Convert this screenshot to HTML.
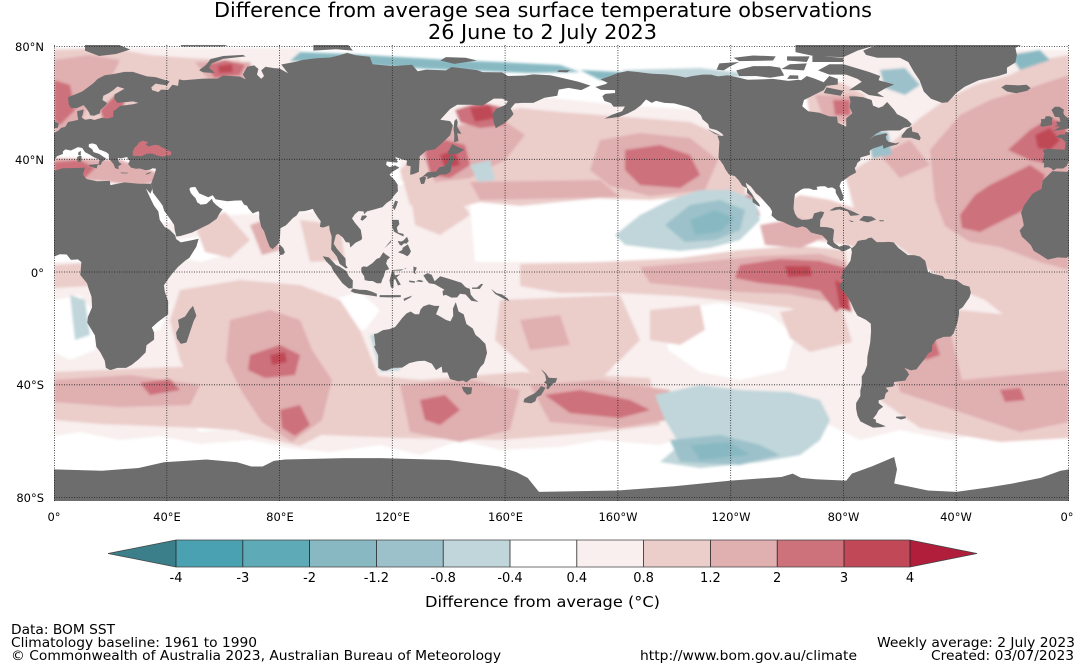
<!DOCTYPE html>
<html><head><meta charset="utf-8"><style>html,body{margin:0;padding:0;background:#fff;}svg{display:block;}</style></head>
<body>
<svg xmlns="http://www.w3.org/2000/svg" xmlns:xlink="http://www.w3.org/1999/xlink" width="1085" height="667" viewBox="0 0 1085 667" font-family="'DejaVu Sans','Liberation Sans',sans-serif">
<defs>
<clipPath id="mc"><rect x="54" y="45" width="1015" height="456"/></clipPath>
<filter id="soft" x="-5%" y="-5%" width="110%" height="110%"><feGaussianBlur stdDeviation="1.3"/></filter>
<g id="land" fill="#6d6d6d">
<path d="M-5.6,36 L-6.3,36.8 -7.4,37.2 -8.9,37 -8.8,38.7 -9.5,38.8 -8.7,42 -9.3,43 -8,43.7 -4,43.5 -1.5,43.4 -1.2,46 -2.5,47.3 -4.7,48 -3,48.8 -1.5,48.7 -1.3,49.7 0.2,49.5 1.6,50.2 2.5,51.1 4,51.5 5,53.2 7,53.6 8.6,54 8.3,55.5 8.2,57 10.5,57.7 10.3,56.2 9.8,54.8 11,54 13,54.3 14.3,53.9 17,54.7 19,54.4 21,55 21,57 22,57.7 23.5,58.9 28,59.5 30,60 28,60.5 25,60.2 22.5,60 21.3,61.5 21.5,63 25,65 22.5,65.8 21,64.5 19.5,63.5 17.5,62.5 17.2,61 18.8,60 18.5,59.3 16.5,57.5 16.2,56.2 14.2,55.4 12.8,55.6 12.5,56.5 11.5,58 10.5,59.2 8,58.1 6,58.2 5.2,59.5 5,62 7,62.8 10,64 12,65.5 14,67 15.5,68.5 18,69.8 21,70.2 25,71 28,71 31,70 33,69.4 36,69.1 41,67.6 40,66.2 36,66.8 34.5,65.5 34.8,64.5 37,63.8 38,64.7 40.5,64.6 42,66.4 44,66 44.3,68.3 46,68 53,68.6 58,68.6 60,69.7 66,69.3 68,68.3 67,70 68.5,72.8 71,73.3 72.5,72 72,70 73.5,68.5 74.5,69.5 73.5,71.5 75,72.8 78,72.3 80,72.2 83,70.5 80.6,73.6 86,74.6 88,75.2 93,75.8 98,76.1 101,76.8 104,77.7 107,76.9 112,76.3 113,73.7 120,73 127,73.5 129,71.2 132,71.8 139,71.5 141,72.7 150,71.6 152,70.9 159,70.8 161,69.5 167,69.7 170,70.1 176,69.8 180,68.9 186,67.5 190.3,66.1 187,64.5 182.5,65.3 179,64.7 178.5,62.5 174,61.8 170,60 166,60 163.5,59.8 162,58 163,56 162,54.8 160,53 158,51.8 156.7,51 156,53 155.5,56 156.8,57.8 160,59.2 161,60.5 159,61.5 156,61.5 152,59 148,59.3 143,59.3 140.5,57.8 137,54 140.5,53.5 141.5,52 140.5,48.5 138,46 135,43.5 132,43 129.7,41 129.5,37 129.4,35.5 127.5,34.7 126.3,34.5 126.5,37.5 125,37.8 125.2,39.5 124,39.8 122,40.5 121,40.8 122,39 121.5,38.8 118,39.2 117.8,38 119,37.2 121,37.8 122.5,37 120,35.5 119,34.5 120.9,32.5 121.9,31 121.9,30 122,28.7 120.5,27 119.5,25.5 118,24.5 116.5,23 114,22.3 111,21.5 110,20.5 109.8,21.5 108,21.6 106.7,20.5 105.7,19 106.7,17.5 108.8,15 109.3,12 109,11.4 107,10.4 105.1,8.7 104.8,10.4 103.5,10.6 102.5,12.2 100.9,13.5 100,13.2 99.2,10 100.3,8.3 101.5,6.9 103.4,4.8 103.5,2.5 104.2,1.4 103.5,1.3 101.3,2.9 100.3,5.5 98.3,8 98.5,12.5 97.8,14.8 97.6,16.5 95.5,15.8 94.3,16 94.6,18 93.5,19.5 92.3,21.4 91.8,22.4 90.5,22 88.8,21.6 87,21.5 86,20 84.8,19.2 82.3,16.6 80.3,15.5 80.2,13 79.8,10.3 78.5,9 77.5,8.1 76.5,8.9 75.5,11.5 74.5,14.5 73.5,16 72.8,19 72.8,21 72.5,21.6 70.5,20.8 69,22.5 68.5,23.5 67.4,23.9 66.5,25.4 64,25.3 61.5,25.1 58.5,25.6 57.3,25.8 56.3,27.2 54.7,26.5 51.5,27.9 50.1,30.2 48.5,30 48,29.5 48.5,28 49.6,26.8 50.2,26.2 50.8,24.7 51.6,24.2 52,23.9 54,24.1 56,26 56.4,24.9 57.4,23.9 58.9,22.7 59.8,22.3 58.5,20.4 57.7,18.9 56.3,17.9 55,17 52.2,15.6 49,14 45,12.8 43.4,12.6 42.8,15 42.6,16.7 41.2,18.8 39.1,21.7 38.5,23.6 37.5,25 35.1,28.1 34.9,29.5 34.3,31.3 34.6,31.6 35,32.9 35.6,34.5 35.9,35.5 36.2,36.6 35,36.8 34,36.3 32.5,36.1 30.5,36.7 29,36.6 27.3,37 26.3,38.3 26.9,39.5 26.2,40 26,40.8 23.7,40.3 22.6,40.5 23,39 24,38.2 22.8,37.5 23,36.5 21.7,36.8 21.1,38.3 19.5,40.2 19.4,41.8 18.5,42.5 16,43.5 15,45.2 13.7,45.6 12.4,45.4 12.3,44.4 13.6,43.5 14,42.5 16,41.9 18.5,40.2 17,39 16.6,38 15.7,38 16.2,39.8 15.6,40.1 14,40.8 12.5,41.7 11,42.5 10,44 8.5,44.3 7.5,43.8 6,43.1 4,43.5 3.1,42.7 3.2,41.9 1,41 0,39.5 -0.5,38.3 -0.8,37.6 -2.1,36.7 -4.4,36.7 Z"/>
<path d="M-5.9,35.8 L-9.3,32.5 -9.8,29.5 -13,27.7 -16,23.5 -17,21 -16.5,19 -16,16.5 -17.5,14.7 -16.7,12.5 -15,11 -13.5,9.5 -12.5,7.5 -10.5,6.3 -7.5,4.4 -4,5.2 -1,5 2,6.3 4.5,6.2 6,4.3 8.5,4.5 9.7,3.5 9.5,1 9.3,-1 11.7,-4 12.3,-6 13.3,-8.8 13.5,-12.5 12,-16 11.8,-18 13,-20 14.5,-22.5 15,-26.5 16.5,-28.6 18,-31.5 18.4,-34 20,-34.8 22.5,-34 25.6,-34 27.5,-33 30,-31 32.5,-28.5 32.8,-26 35.5,-24 35.5,-21.5 34.7,-19.7 36.8,-17.8 40.5,-15 40.5,-10.5 39.3,-7 39,-4.7 40.5,-2.5 42,-0.5 44,1.8 46.5,4 48,5 50.5,9 51.3,11.8 49,11.3 45,10.5 43.3,11.7 43,13 41,15 39.2,16 37.5,18.5 37,21.5 35.5,23.5 34,26.5 32.6,29.6 34.2,27.8 34.9,29.5 34.3,31.3 32.3,31.3 30,31.3 25,31.8 20,30.8 19.8,32.3 15.3,32.2 11.5,33 10.2,34.6 11,37 8.5,36.9 3,36.8 -1,35.5 Z"/>
<path d="M49.3,-12 L50.5,-15.5 49.5,-17.5 48,-22 47,-25 45,-25.5 43.6,-23.6 43.3,-21.5 44.4,-19.5 44,-17 46.5,-15.8 48,-13.5 Z"/>
<path d="M-5.7,50.1 L-3.5,50.3 1.4,51.2 1.7,52.7 0.3,53.4 -0.2,54.5 -1.6,55.6 -2,56.5 -1.8,57.6 -3.4,58.6 -5,58.6 -6.2,57.5 -5.6,56.3 -5,55 -3.4,54.9 -3.2,54 -3,53.3 -4.6,53.3 -4,52 -5.2,51.7 -3,51.5 Z"/>
<path d="M-6,52.2 L-6.1,53.9 -5.7,54.6 -7,55.3 -8.3,55.2 -8.6,54.3 -10,54.2 -9.8,53.4 -10.2,51.9 -9.5,51.5 -8,51.8 Z"/>
<path d="M-22,64 L-24,65.5 -22.5,66.4 -18,66.2 -15,66.4 -13.6,65.2 -14.8,64.3 -18.7,63.4 Z"/>
<path d="M11,78.5 L16,76.6 22,77.3 27,78.9 22,81 11,81 Z"/>
<path d="M45,80 L60,80 65,81.5 45,81.5 Z"/>
<path d="M51.5,71.5 L53,70.8 57,70.6 55,72.5 56,74 60,75.6 68,76.5 67,77 60,76.6 55.5,75.5 54,73.5 52,72 Z"/>
<path d="M92,78.5 L100,79 106,78.5 104,81 92,81 Z"/>
<path d="M137,75 L142,73.8 150,75 146,76 139,76.2 Z"/>
<path d="M178.5,71 L182,70.8 183,71.6 179,71.6 Z"/>
<path d="M130.9,34 L132.5,35.4 135.5,35.6 136.8,37.2 138.5,37.5 140,39.5 140,40.7 141.4,41.4 142,39.5 141,38.3 140.9,37 140.7,35.7 139.8,35 138.8,34.6 137,34.6 135.2,33.5 132.5,33.8 Z"/>
<path d="M129.6,33.3 L130.2,31.2 131.3,31.3 132,33.5 131,34 Z"/>
<path d="M140,41.5 L139.8,42.7 141.3,45.4 142.5,44.7 145.5,43.4 143.3,42 141,41.7 Z"/>
<path d="M132.5,33 L134.5,33.8 134.6,34.2 133,34.1 132.3,33.4 Z"/>
<path d="M142,46 L143.5,46.5 143,49.2 144.5,49 143,51.5 143.2,53.3 142.7,54.4 142,53.5 141.7,51 142,48.5 141.9,46.1 Z"/>
<path d="M120.1,23 L121,25.3 122,25 121.5,23.5 120.8,21.9 Z"/>
<path d="M108.7,18.5 L109.5,18.2 111,19.6 110.6,20.1 109.2,20 Z"/>
<path d="M120,18.5 L122.2,18.5 122.5,17 121.6,15.8 122,14 124,13.5 124,12.6 122.7,13.2 121.5,13.8 120.6,14.3 120,16 Z"/>
<path d="M122,7 L123.5,7.8 123.7,8.6 125.5,9.8 126.6,7.3 126,6.2 125.3,5.6 124,6.3 Z"/>
<path d="M123.2,10.8 L124,11.2 125.2,12.5 125.8,11 125,10 124.2,10.2 123.2,9.3 122.5,9.8 121.9,11 Z"/>
<path d="M117.2,8.4 L119.5,10.6 119.6,11.3 118.5,10 Z"/>
<path d="M109,1.5 L109.7,2 111,1.8 113,3.2 114.5,4.7 115.5,5 116.8,7 117.7,6.2 119.2,5.2 118.2,4.3 117.8,3 118.9,1 117.5,0.5 117,-1.5 116.5,-2.5 116,-4 114.5,-4 113,-3.2 111.7,-3.2 110.2,-2.9 110,-1.5 109,0 Z"/>
<path d="M95.3,5.6 L97.5,5.2 100,2.5 101.2,2 103.7,0.3 104.6,-1.5 106,-3 105.9,-5.8 104.5,-5.8 102.3,-4 100.8,-2 99,0.5 98.3,2 96.5,3.8 Z"/>
<path d="M105.2,-6.8 L106,-5.9 108.3,-6.3 110.8,-6.4 112.6,-6.9 114.5,-7.7 114.5,-8.7 112,-8.3 108.5,-7.8 106.5,-7.4 Z"/>
<path d="M115.5,-8.2 L119,-8.2 123,-8.2 123,-8.9 119,-9 115.5,-8.9 Z"/>
<path d="M124,-9.5 L127,-8.4 126.5,-9 124.2,-10.3 Z"/>
<path d="M119.5,-5.5 L120.4,-5.6 120.5,-2.8 121,-2.5 122,-4.8 123,-4.5 121.5,-1.9 122.8,-0.8 121,-1.2 120.3,0.5 123,0.5 124.8,1.5 125,1.3 123,0.9 120.1,0.7 119.8,0 119,-3 Z"/>
<path d="M127.5,2 L128.7,1.5 128,0 128.5,-0.8 127.5,-0.3 Z"/>
<path d="M126,-3 L128,-3.3 128,-3.8 126,-3.6 Z M129.5,-2.8 L131,-3.2 130.5,-3.6 128.3,-3.3 Z"/>
<path d="M131,-1.2 L132.5,-0.4 134,-1 135,-3.3 137,-1.5 140,-2.4 144.5,-3.8 146,-5.4 147.5,-6 147.8,-8 149,-9.5 150.6,-10.6 148,-10.2 146,-8 144,-7.7 143,-9 141,-9.1 139,-8.1 138,-8.4 137.8,-6.8 138.5,-6.3 135,-4.3 133,-4 132,-2.8 Z"/>
<path d="M148.3,-5.5 L150,-5.5 151.5,-4.2 152.2,-4.3 151,-6 148.3,-6 Z"/>
<path d="M155,-6 L157,-7.5 159,-8 161,-9.5 161.5,-10.4 159.5,-9.5 156.5,-7.8 Z"/>
<path d="M79.8,8 L80,9.8 81.3,8.5 81.9,7 81.3,6.2 80.1,6 Z"/>
<path d="M113.5,-22 L114,-26 113.5,-26.5 115,-29.5 115,-32 115,-34 116.5,-35 118,-35 120,-34 123.5,-33.9 126,-32.3 129,-31.6 131.5,-31.5 134,-32.5 135.5,-34.8 137.5,-33.5 137.8,-35.7 139.5,-35.6 140.5,-38 143.5,-38.8 145,-38.5 146.3,-39.1 148,-37.8 150,-37.5 150,-36 151.2,-33.8 152.5,-32.4 153.6,-28.7 153,-25.5 151,-23.5 149.5,-22.3 148.5,-20 146.3,-18.5 145.3,-15 143.5,-14 142.5,-10.7 141.5,-13 141.6,-15.5 140.6,-17.5 139,-17 137,-15.8 135.5,-15 136.7,-12 135,-12 133,-11.5 131,-12.2 130,-13.3 129.5,-15 128,-15 126.5,-14 125,-14.7 123.5,-16.3 122.2,-18 121,-19.5 118.8,-20.3 116.7,-20.6 114.6,-21.8 Z"/>
<path d="M144.6,-40.7 L148.3,-40.9 148,-43.2 146.5,-43.6 145.2,-42.2 Z"/>
<path d="M172.7,-34.4 L174.5,-36 175.5,-37.5 178.5,-37.7 177.9,-39.2 176.9,-39.6 175.3,-41.6 174.6,-41.3 175,-39.9 173.8,-39.2 174.6,-38.4 174.2,-36.5 Z"/>
<path d="M172.7,-40.5 L174.3,-41 173.5,-42.5 172.7,-43.7 171.3,-44.3 170.7,-45.9 169.2,-46.6 166.5,-46.2 166.8,-45 168.5,-44 170.5,-43 172,-41.5 Z"/>
<path d="M23.5,35.3 L26.3,35.2 26,35 24,35 Z M32.3,34.7 L34.6,35.6 34,35 33,34.6 Z M12.4,38 L15.6,38.3 15.1,36.7 12.4,37.6 Z M8.4,39 L9.6,39.1 9.8,41 9.2,41.3 8.2,40.8 Z M8.6,41.5 L9.5,41.4 9.5,43 8.6,42.4 Z"/>
<path d="M-77.3,8.6 L-79.5,7.5 -80.5,7.3 -81.5,8 -83.5,8.5 -85.8,10 -85.7,11.1 -87.5,13 -89.5,13.5 -91.5,14 -93,15.6 -94.5,16.2 -96.5,15.7 -99,16.6 -101.5,17.8 -103.5,18.3 -105.5,20 -105.3,21.5 -106,22.8 -108,25 -109.5,26.7 -111,27.9 -112.8,30.3 -114.7,31.7 -114.2,30 -112.5,27.8 -111.5,26 -110,24.3 -109.5,23.2 -110.3,23.5 -112.2,24.8 -112.3,26.5 -114.2,28 -114.2,29.7 -115.9,30.6 -117.1,32.5 -118.5,34 -120.6,34.6 -121.9,36.5 -122.5,37.8 -123.8,39.7 -124.3,40.4 -124.2,42.8 -124,46.3 -124.7,48.4 -123,48.3 -122.5,48.5 -123.5,49.4 -125,50.3 -127.5,51 -128,52.5 -130,54.2 -130.5,55.5 -132,57 -135,58.5 -137,59 -140,59.8 -143.5,60 -146.5,60.7 -148,60 -150,61.2 -151.8,59.2 -154,57.5 -156.5,56.2 -159.5,55 -162.5,54.6 -164.8,54.4 -162,55.8 -158.5,57 -157.5,58.7 -161.5,58.6 -162.5,59.9 -164.8,60.7 -165.5,62.4 -164.5,63.2 -161,63.5 -161,64.5 -166,64.6 -168,65.6 -164.5,66.6 -163.6,67.1 -166.2,68.3 -163,69.4 -160,70.6 -156.6,71.3 -152,70.8 -148,70.3 -143,70.1 -139,69.6 -136,69 -133.5,69.5 -130,70 -127,70 -124.5,69.4 -121,69.8 -117,68.9 -114,68.2 -109,68.3 -105,68.5 -99.5,67.8 -96,68.2 -95,68 -93,69.5 -90,68.5 -87,67.3 -85,69.5 -82,68.5 -82,66.5 -86,66 -87,64.5 -91,62.5 -94,61 -94.6,58.8 -92.5,57 -88.5,56.5 -85,55.2 -82.3,55.1 -82,53 -79,51.5 -79,54.5 -76.8,56.3 -77.8,58.5 -77.5,60.5 -78,62.3 -75.5,62.3 -73,62 -70,61 -69.5,59 -67.5,58.2 -66,58.8 -64.5,60.3 -62,57.5 -61,56 -59,55 -57.5,54.2 -55.8,52.5 -56.5,51.5 -58.5,51.2 -60,50.2 -64,50.2 -66.5,50 -68.5,49 -71,46.8 -69,48.3 -65,49.2 -64.3,48.8 -65,48.1 -64.8,47 -64,46.2 -61.5,45.6 -60,46 -61.1,45.2 -63.8,44.5 -65.8,43.7 -66,45 -67,44.6 -69.5,43.8 -70.7,43 -70.6,41.6 -72,41.2 -74,40.6 -74,39.5 -75,38.8 -75.5,37.5 -76,36.9 -75.5,35.3 -76.8,34.6 -78,33.9 -79.2,33 -80.8,32 -81.4,30.5 -80.6,28.4 -80,26.8 -80.2,25.5 -81.1,25.2 -81.8,26.5 -82.7,28 -82.8,29.3 -84,30 -85.5,29.8 -86.5,30.4 -88,30.4 -89.5,30.2 -89.2,29.2 -90.5,29.1 -92,29.6 -94,29.6 -95,29.2 -97.2,27.6 -97.5,25.5 -97.7,22.5 -97.2,20.7 -96.3,19.3 -94.8,18.5 -92.5,18.6 -91,19 -90.4,20.8 -88,21.5 -86.8,21.2 -87.5,19.5 -88.2,18.5 -88.3,16 -86,15.9 -84,15.5 -83.3,14.9 -83.7,11.5 -83.4,10.4 -81.5,9 -79.5,9.6 -78,9.3 Z"/>
<path d="M-62,66.5 L-65,65.2 -68,63.5 -65.5,62 -71,62.8 -74,64.5 -78,64.5 -73.5,67.5 -75,68.5 -79,70 -85,70 -89,71.5 -85,73.7 -80,73.7 -76,72.5 -71,71 -67,69.5 -67.5,68 Z"/>
<path d="M-118,71.5 L-117,69.5 -111,69.5 -106,68.9 -101,69.7 -102.5,72.5 -106,73 -112,73 Z"/>
<path d="M-125,71.8 L-122.5,71.5 -120,73 -117,74.5 -124,74 Z"/>
<path d="M-117,74.8 L-105,75 -104,76.5 -112,76.8 -119,76 Z"/>
<path d="M-100,75 L-93,74.5 -92,76.5 -100,76.5 Z"/>
<path d="M-91,74.5 L-80,74.5 -80,76 -91,76.7 Z"/>
<path d="M-102,72 L-94,71.5 -93,74 -99,73.7 Z"/>
<path d="M-100,68.5 L-96,68.5 -96,69.7 -99,69.8 Z"/>
<path d="M-87,63.5 L-81,62.5 -80,64.3 -86,65.5 Z"/>
<path d="M-97,78 L-90,76.5 -80,76.2 -75,78.5 -65,81.5 -97,81.5 Z"/>
<path d="M-73,78.5 L-72,77 -68,76 -60,76 -57,74.5 -55,71 -53,68 -51.5,64 -49,61.5 -45,60 -43,60.2 -40,63.5 -37,65.7 -32,68 -25,69.5 -22,70.5 -22,72.5 -19,74.3 -18.5,77 -19,79.5 -15,81.5 -65,82 Z"/>
<path d="M-59.4,47.6 L-56,47.6 -53,46.7 -52.6,47.6 -53.5,49.3 -55.6,49.8 -55.8,51.6 -57.5,50.7 -59.3,48.5 Z"/>
<path d="M-85,21.8 L-83,22.9 -81,23.2 -77.5,21.8 -75.7,21 -74.2,20.2 -77.5,19.9 -78.5,21.5 -81.5,22.2 -83.5,21.8 Z"/>
<path d="M-74.4,18.4 L-72.8,19.9 -70,19.7 -68.4,18.6 -71.4,17.6 Z"/>
<path d="M-78.3,18.4 L-76.3,18 -77,17.7 Z M-67.2,18.4 L-65.6,18.3 -65.7,18 -67.2,18 Z"/>
<path d="M-128.4,50.7 L-123.5,48.4 -125.5,48.9 Z"/>
<path d="M-77.3,8.6 L-77,7 -77.5,4 -78.5,2.5 -80,0.8 -80.4,-1 -81,-2.2 -79.8,-2.7 -81.3,-4.5 -81,-6 -79.5,-7.5 -77.5,-10.5 -76.2,-13.5 -75,-15.5 -72,-17 -70.3,-18.3 -70.2,-21 -70.5,-25 -71.5,-30 -71.6,-33 -72.5,-35.5 -73.5,-37 -73.5,-40 -74,-42 -74,-44 -75.5,-46.5 -75.5,-48.5 -75,-51 -74,-53 -72,-54 -69.5,-55.2 -66.5,-55 -65,-54.7 -68.5,-53.3 -68.5,-52.3 -69.5,-52 -68.3,-50.5 -67.5,-49 -65.9,-47.8 -67.5,-46.5 -67.5,-45.5 -65.5,-45 -65,-43 -64,-42.2 -65,-41 -62.3,-40.6 -62,-39 -58,-38.5 -57.5,-37.5 -56.7,-36.4 -57.3,-35.3 -58.4,-34 -56,-34.9 -54,-34.5 -53.5,-33.7 -51.3,-31 -50,-29 -48.6,-28 -48.5,-26 -47,-24 -44.5,-23 -42,-22.9 -41,-21.9 -40.3,-20 -39.6,-18 -39,-15 -39,-13.4 -37.7,-12.5 -35.3,-9 -34.8,-7.3 -35.3,-5.2 -37.5,-4.6 -40,-2.8 -44,-2.4 -44.8,-1.4 -48,-0.7 -50,0 -51,4 -52.9,5.5 -55,6 -57.2,6 -58.5,7 -60.5,8.5 -62.2,10.5 -64,10.7 -66,10.6 -68.2,10.6 -70,12.2 -71.2,12 -72,11.5 -73.5,11.3 -74.9,11 -75.8,9.5 -76.8,8.6 Z"/>
<path d="M-61.3,-51.3 L-58,-51.2 -57.8,-51.8 -59.5,-52.3 -61.3,-51.8 Z"/>
<path d="M0,-70 L17,-70.5 30,-69.5 39,-67.5 54,-66.5 65,-67.5 70,-69 74,-69 78,-67 82,-66.5 103,-66 115,-66 140,-66.7 150,-68 158,-69 164,-71 168,-73 172,-78 200,-77.5 220,-76 240,-74 258,-72.7 262,-71.5 265,-73 270,-73.5 281,-74 283,-71.5 290,-69 298,-65.6 299,-70 298,-75 310,-77.5 320,-78 331,-76.5 340,-75 350,-73 357,-70.5 360,-70 360,-90 0,-90 Z"/>
</g>
</defs>

<rect x="0" y="0" width="1085" height="667" fill="#fff"/>

<text x="543" y="17" font-size="20" text-anchor="middle" textLength="658" lengthAdjust="spacingAndGlyphs">Difference from average sea surface temperature observations</text>
<text x="542.5" y="39" font-size="20" text-anchor="middle" textLength="229" lengthAdjust="spacingAndGlyphs">26 June to 2 July 2023</text>

<g clip-path="url(#mc)">
<rect x="54" y="45" width="1015" height="456" fill="#fff"/>
<g filter="url(#soft)">
<!-- light pink -->
<g fill="#f8efee">
<polygon points="150,225 230,215 300,212 340,210 400,185 480,175 470,205 475,262 540,262 620,262 745,262 760,250 860,250 860,320 880,300 960,295 1069,300 1069,430 1030,438 990,432 950,440 900,430 860,440 830,425 800,440 760,438 700,432 660,445 600,440 560,447 500,450 460,440 420,455 380,445 330,452 290,448 250,440 200,444 160,436 120,440 80,432 54,436 54,262 120,262 150,290"/>
<polygon points="400,100 520,95 620,105 700,110 760,120 800,150 760,200 700,195 620,200 560,197 480,200 440,205 400,180"/>
<polygon points="54,48 300,48 300,80 200,120 54,140"/>
<polygon points="840,50 1069,50 1069,300 860,250 850,200"/>
</g>
<!-- white holes -->
<g fill="#ffffff">
<polygon points="475,210 540,200 600,205 640,210 700,205 745,215 748,255 700,262 620,260 560,262 505,258 478,240"/>
<polygon points="665,310 720,303 770,315 795,335 785,370 740,380 700,372 668,350"/>
<polygon points="54,300 80,295 100,320 95,350 70,360 54,352"/>
<polygon points="100,300 140,292 170,305 160,330 125,335 105,320"/>
<polygon points="175,240 210,235 225,255 200,262 180,258"/>
<polygon points="330,300 360,292 380,310 365,330 340,328"/>
<polygon points="880,260 920,255 950,265 935,285 895,285"/>
<polygon points="560,355 600,350 620,365 590,380 565,372"/>
<polygon points="180,415 230,410 240,428 200,432"/>
</g>
<!-- medium pink -->
<g fill="#ebcdca">
<polygon points="845,175 870,160 895,140 920,118 945,100 975,85 1010,75 1040,60 1069,55 1069,330 1040,335 1010,320 985,300 960,290 935,275 910,255 890,240 870,225 855,210"/>
<polygon points="54,50 110,48 150,55 190,58 240,60 250,80 200,85 160,95 130,115 110,130 54,135"/>
<polygon points="400,170 430,140 470,118 520,108 560,112 600,115 640,118 690,122 720,135 745,160 745,195 720,200 690,196 650,200 600,198 560,202 520,206 480,202 440,212 410,205"/>
<polygon points="520,264 600,262 680,258 740,250 800,246 845,250 852,300 835,322 790,308 740,302 680,296 620,293 560,293 520,286"/>
<polygon points="180,290 240,280 300,285 340,300 360,330 380,380 350,420 300,446 240,432 200,400 180,360 170,320"/>
<polygon points="54,372 200,366 380,376 420,380 520,372 650,378 660,425 600,432 500,440 400,438 300,434 200,428 100,424 54,420"/>
<polygon points="500,300 620,295 640,340 600,380 530,372 495,340"/>
<polygon points="650,310 700,305 705,330 680,345 650,340"/>
<polygon points="780,312 840,302 852,342 810,352 790,338"/>
<polygon points="880,320 960,310 1040,318 1069,330 1069,438 1000,442 920,428 880,400 870,360"/>
<polygon points="780,205 800,195 830,200 860,210 890,220 900,240 880,252 850,246 820,241 790,231"/>
<polygon points="805,85 840,82 865,95 870,125 840,128 810,118"/>
<polygon points="195,225 225,212 250,240 230,258 205,252"/>
<polygon points="300,220 340,225 345,260 310,262"/>
<polygon points="410,190 450,185 470,215 440,235 415,225"/>
<polygon points="54,265 100,262 110,285 54,288"/>
</g>
<!-- pink -->
<g fill="#e0afb0">
<polygon points="930,150 960,115 990,100 1030,88 1069,75 1069,270 1040,262 1000,247 970,242 945,226 935,200"/>
<polygon points="880,155 910,140 930,165 900,178"/>
<polygon points="54,60 90,55 120,60 110,80 90,100 80,125 54,132"/>
<polygon points="420,150 450,128 500,118 525,135 505,160 470,178 435,182"/>
<polygon points="600,140 640,133 690,138 718,160 705,190 650,196 610,186 590,170"/>
<polygon points="470,182 600,180 620,197 480,200"/>
<polygon points="640,267 700,262 760,256 820,254 846,262 852,312 830,302 790,294 740,292 690,287 650,283"/>
<polygon points="230,320 270,310 300,320 312,350 332,380 322,420 292,442 262,422 242,392 226,360"/>
<polygon points="400,385 470,380 520,390 510,430 460,442 410,432"/>
<polygon points="530,385 600,380 670,390 668,420 620,428 550,422"/>
<polygon points="54,380 130,375 200,385 190,405 120,407 54,402"/>
<polygon points="890,335 950,330 962,380 1069,370 1069,422 1020,432 960,412 900,392"/>
<polygon points="520,320 560,315 570,345 530,350"/>
<polygon points="54,158 120,160 150,170 170,178 140,186 100,181 54,179"/>
<polygon points="1040,160 1069,158 1069,180 1045,176"/>
<polygon points="195,62 250,62 255,78 210,82"/>
<polygon points="815,95 855,95 860,122 825,122"/>
<polygon points="760,225 800,218 830,235 800,248 765,245"/>
<polygon points="250,225 270,218 280,250 262,255"/>
</g>
<!-- red -->
<g fill="#cd717b">
<polygon points="960,215 975,195 990,185 1010,175 1030,165 1045,175 1040,200 1020,212 1000,222 980,232 962,228"/>
<polygon points="1008,150 1030,130 1050,118 1065,123 1069,150 1055,165 1030,160"/>
<polygon points="625,150 660,145 690,155 700,175 680,188 640,185 625,170"/>
<polygon points="425,150 445,140 465,145 470,165 450,178 430,175"/>
<polygon points="455,110 480,102 505,108 505,125 480,128 460,122"/>
<polygon points="740,265 780,259 820,261 846,268 850,302 836,312 820,291 790,286 760,283 735,278"/>
<polygon points="745,195 752,195 760,215 755,219"/>
<polygon points="250,355 280,345 300,355 295,375 265,378 248,370"/>
<polygon points="280,410 300,405 310,425 295,436 282,428"/>
<polygon points="545,395 580,390 630,400 650,410 620,418 570,413"/>
<polygon points="420,400 445,395 460,410 440,425 425,420"/>
<polygon points="140,383 170,379 180,390 150,395"/>
<polygon points="54,80 70,85 75,110 60,125 54,120"/>
<polygon points="205,65 225,60 245,65 240,75 215,78"/>
<polygon points="54,162 80,160 95,168 85,178 54,178"/>
<polygon points="100,110 115,95 125,100 120,120 105,125"/>
<polygon points="920,345 935,340 940,355 925,360"/>
<polygon points="1000,390 1020,388 1025,400 1005,402"/>
<polygon points="833,100 850,100 850,115 835,115"/>
</g>
<g fill="#c04857">
<polygon points="470,108 490,105 495,118 475,122"/>
<polygon points="440,155 455,150 460,165 445,168"/>
<polygon points="785,266 810,266 812,276 788,277"/>
<polygon points="835,280 845,285 851,312 840,308"/>
<polygon points="1035,135 1050,128 1060,140 1050,150 1038,148"/>
<polygon points="270,355 285,352 287,362 272,365"/>
<polygon points="218,66 232,64 233,72 219,73"/>
</g>
<!-- blues -->
<g fill="#c0d6da">
<polygon points="615,235 640,215 670,200 700,190 730,190 755,200 760,220 740,240 710,248 680,251 650,248 625,245"/>
<polygon points="655,395 700,385 740,390 790,392 820,400 830,420 820,440 800,455 760,462 700,468 660,462 680,445 665,420"/>
<polygon points="70,295 85,300 90,335 75,340"/>
<polygon points="370,335 395,330 400,370 380,372"/>
<polygon points="620,70 700,68 760,75 700,80 640,78"/>
<polygon points="470,165 490,160 495,180 478,182"/>
</g>
<g fill="#9cc1ca">
<polygon points="665,225 690,205 720,200 745,210 740,230 715,240 685,242"/>
<polygon points="670,440 720,435 760,445 780,455 740,465 680,462"/>
<polygon points="880,70 905,68 920,85 905,95 885,88"/>
<polygon points="868,130 888,132 892,155 872,158"/>
</g>
<g fill="#88b9c3">
<polygon points="690,220 715,210 735,218 720,232 695,235"/>
<polygon points="690,445 730,442 750,455 700,460"/>
<polygon points="300,52 350,54 400,57 450,60 500,62 560,65 580,72 530,73 480,71 430,69 380,66 330,63 290,61"/>
<polygon points="580,70 620,72 640,80 600,80"/>
<polygon points="1010,55 1040,50 1050,60 1020,70"/>
</g>
</g>
<!-- land -->
<g transform="matrix(2.8194 0 0 -2.8194 54 272)">
<use href="#land" xlink:href="#land"/>
<use href="#land" xlink:href="#land" x="360"/>
<path fill="#cd717b" d="M28,41.2 L29.2,41.2 31,41.1 33,42 35,42 36.5,41.3 38.5,40.9 41.5,41.5 41.6,42.6 40,43.4 38,44.4 37,45 35.5,45.1 33.5,44.5 32.5,45.3 33.5,46 31.5,46.6 30.2,46 29.6,45.1 28.6,44.1 27.9,42.7 Z"/>
</g>
<!-- grid -->
<g stroke="#222" stroke-width="0.8" stroke-dasharray="1,1.5" fill="none">
<line x1="54" y1="46.5" x2="1069" y2="46.5"/>
<line x1="54" y1="159.3" x2="1069" y2="159.3"/>
<line x1="54" y1="272" x2="1069" y2="272"/>
<line x1="54" y1="384.8" x2="1069" y2="384.8"/>
<line x1="54" y1="497.5" x2="1069" y2="497.5"/>
<line x1="54.5" y1="45" x2="54.5" y2="501"/>
<line x1="166.8" y1="45" x2="166.8" y2="501"/>
<line x1="279.6" y1="45" x2="279.6" y2="501"/>
<line x1="392.3" y1="45" x2="392.3" y2="501"/>
<line x1="505.1" y1="45" x2="505.1" y2="501"/>
<line x1="617.9" y1="45" x2="617.9" y2="501"/>
<line x1="730.7" y1="45" x2="730.7" y2="501"/>
<line x1="843.4" y1="45" x2="843.4" y2="501"/>
<line x1="956.2" y1="45" x2="956.2" y2="501"/>
<line x1="1068.5" y1="45" x2="1068.5" y2="501"/>
</g>
</g>

<g font-size="11.5" fill="#000">
<g text-anchor="end">
<text x="44" y="51">80°N</text>
<text x="44" y="164">40°N</text>
<text x="44" y="277">0°</text>
<text x="44" y="389">40°S</text>
<text x="44" y="502">80°S</text>
</g>
<g text-anchor="middle">
<text x="54" y="521">0°</text>
<text x="167" y="521">40°E</text>
<text x="280" y="521">80°E</text>
<text x="392.5" y="521">120°E</text>
<text x="505.5" y="521">160°E</text>
<text x="618" y="521">160°W</text>
<text x="731" y="521">120°W</text>
<text x="843.5" y="521">80°W</text>
<text x="956" y="521">40°W</text>
<text x="1067" y="521">0°</text>
</g>
</g>

<g>
<polygon points="176,540 108,553.5 176,567" fill="#3a7f8a"/>
<polygon points="910,540 977,553.5 910,567" fill="#b01e3b"/>
<rect x="176" y="540" width="66.8" height="27" fill="#4aa1b1"/>
<rect x="242.8" y="540" width="66.8" height="27" fill="#5eaab7"/>
<rect x="309.6" y="540" width="66.8" height="27" fill="#88b9c3"/>
<rect x="376.4" y="540" width="66.8" height="27" fill="#9cc1ca"/>
<rect x="443.2" y="540" width="66.8" height="27" fill="#c0d6da"/>
<rect x="510" y="540" width="66.8" height="27" fill="#ffffff"/>
<rect x="576.8" y="540" width="66.8" height="27" fill="#f8efee"/>
<rect x="643.6" y="540" width="66.8" height="27" fill="#ebcdca"/>
<rect x="710.4" y="540" width="66.8" height="27" fill="#e0afb0"/>
<rect x="777.2" y="540" width="66.8" height="27" fill="#cd717b"/>
<rect x="844" y="540" width="66" height="27" fill="#c04857"/>
<g stroke="#222" stroke-width="0.8">
<line x1="176" y1="540" x2="176" y2="567"/>
<line x1="242.8" y1="540" x2="242.8" y2="567"/>
<line x1="309.6" y1="540" x2="309.6" y2="567"/>
<line x1="376.4" y1="540" x2="376.4" y2="567"/>
<line x1="443.2" y1="540" x2="443.2" y2="567"/>
<line x1="510" y1="540" x2="510" y2="567"/>
<line x1="576.8" y1="540" x2="576.8" y2="567"/>
<line x1="643.6" y1="540" x2="643.6" y2="567"/>
<line x1="710.4" y1="540" x2="710.4" y2="567"/>
<line x1="777.2" y1="540" x2="777.2" y2="567"/>
<line x1="844" y1="540" x2="844" y2="567"/>
<line x1="910" y1="540" x2="910" y2="567"/>
</g>
<polygon points="108,553.5 176,540 910,540 977,553.5 910,567 176,567" fill="none" stroke="#444" stroke-width="0.8"/>
</g>
<g font-size="13" text-anchor="middle" fill="#000">
<text x="176" y="582">-4</text>
<text x="242.8" y="582">-3</text>
<text x="309.6" y="582">-2</text>
<text x="376.4" y="582">-1.2</text>
<text x="443.2" y="582">-0.8</text>
<text x="510" y="582">-0.4</text>
<text x="576.8" y="582">0.4</text>
<text x="643.6" y="582">0.8</text>
<text x="710.4" y="582">1.2</text>
<text x="777.2" y="582">2</text>
<text x="844" y="582">3</text>
<text x="910" y="582">4</text>
</g>
<text x="542.5" y="607" font-size="15" text-anchor="middle" textLength="235" lengthAdjust="spacingAndGlyphs">Difference from average (°C)</text>

<g font-size="13" fill="#000">
<text x="11" y="634" textLength="104" lengthAdjust="spacingAndGlyphs">Data: BOM SST</text>
<text x="11" y="647" textLength="246" lengthAdjust="spacingAndGlyphs">Climatology baseline: 1961 to 1990</text>
<text x="11" y="660" textLength="490" lengthAdjust="spacingAndGlyphs">© Commonwealth of Australia 2023, Australian Bureau of Meteorology</text>
<text x="640" y="660" textLength="217" lengthAdjust="spacingAndGlyphs">http://www.bom.gov.au/climate</text>
<text x="1075" y="647" text-anchor="end" textLength="198" lengthAdjust="spacingAndGlyphs">Weekly average: 2 July 2023</text>
<text x="1074" y="660" text-anchor="end" textLength="143" lengthAdjust="spacingAndGlyphs">Created: 03/07/2023</text>
</g>
</svg>
</body></html>
